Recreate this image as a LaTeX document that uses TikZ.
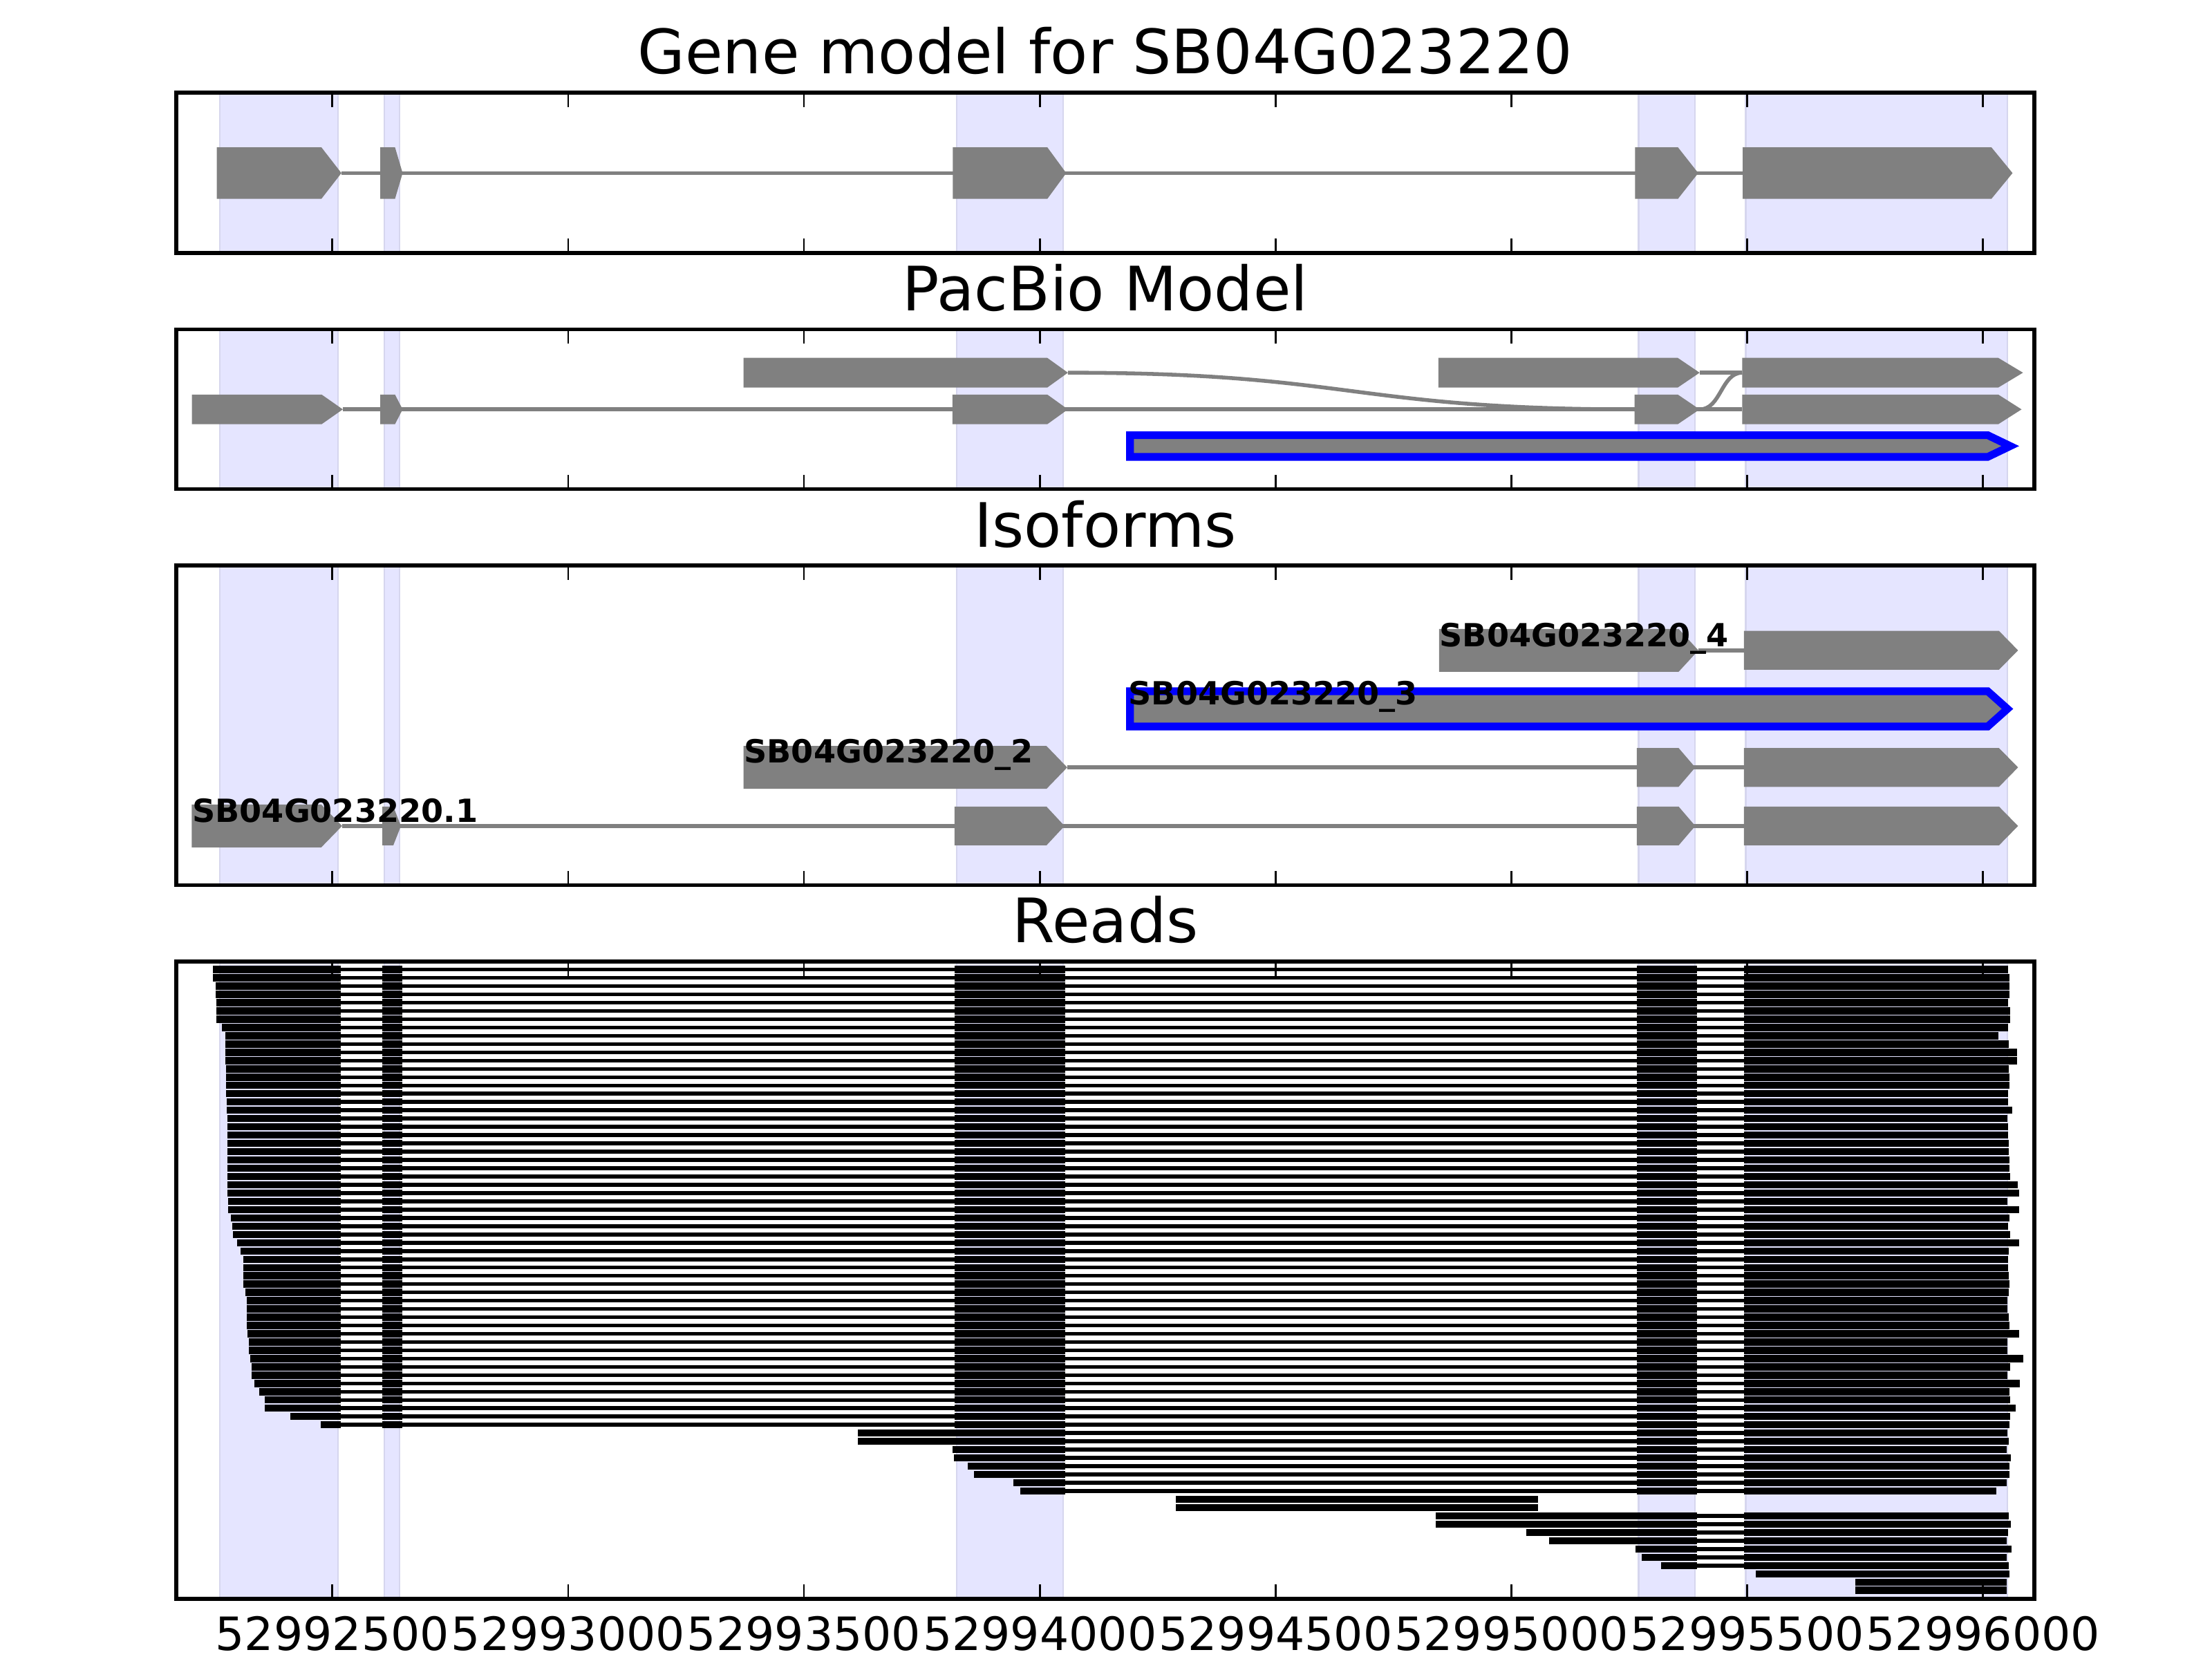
\documentclass[tikz,border=0pt]{standalone}
\usepackage{fontspec}
\setmainfont{DejaVu Sans}
\usepackage{xcolor}
\usepackage{tikz}

\definecolor{exongray}{RGB}{128,128,128}
\definecolor{bandfill}{RGB}{229,229,255}
\definecolor{bandedge}{RGB}{214,214,238}
\definecolor{isoblue}{RGB}{0,0,255}

\tikzset{
  band/.style={fill=bandfill, draw=bandedge, line width=0.4pt},
  intron/.style={draw=exongray, line width=1pt},
  axesframe/.style={draw=black, line width=1pt},
  tickmark/.style={draw=black, line width=0.5pt},
  readline/.style={draw=black, line width=1pt},
  titletext/.style={font=\fontsize{16}{19}\selectfont, anchor=base, inner sep=0pt},
  ticktext/.style={font=\fontsize{12}{14}\selectfont, anchor=base, inner sep=0pt},
  isolabel/.style={font=\fontsize{8.33}{10}\selectfont\bfseries, anchor=base west, inner sep=0pt},
}

% exon arrow: start, end of flat part, tip, centre y, half height
\newcommand{\exonbox}[5]{\fill[exongray] (#1,{#4-#5}) -- (#2,{#4-#5}) -- (#3,#4) -- (#2,{#4+#5}) -- (#1,{#4+#5}) -- cycle;}
\newcommand{\bluebox}[5]{\filldraw[fill=exongray, draw=isoblue, line width=2pt] (#1,{#4-#5}) -- (#2,{#4-#5}) -- (#3,#4) -- (#2,{#4+#5}) -- (#1,{#4+#5}) -- cycle;}
% read block: start, end, centre y
\newcommand{\readbar}[3]{\fill (#1,{#3-2.55}) rectangle (#2,{#3+2.55});}

\begin{document}
\begin{tikzpicture}[x=0.0129592cm, y=-0.0129592cm]
\useasboundingbox (0,0) rectangle (1568,1176);
\fill[white] (0,0) rectangle (1568,1176);

% shaded exon columns
\foreach \ya/\yb in {65.7/179.3, 233.5/346.7, 400.9/627.5, 681.6/1133.4}
  \foreach \a/\b in {155.8/239.5, 272.4/283.3, 678/753.5, 1161.5/1201.5, 1237.5/1423}
    \filldraw[band] (\a,\ya) rectangle (\b,\yb);

% gene model
\draw[intron] (242,122.7) -- (1235.3,122.7);
\exonbox{153.7}{227.8}{242}{122.7}{18.3}
\exonbox{269.6}{280}{285.4}{122.7}{18.3}
\exonbox{675.4}{742.4}{755.8}{122.7}{18.3}
\exonbox{1159}{1189.4}{1203.8}{122.7}{18.3}
\exonbox{1235.3}{1411.6}{1426.6}{122.7}{18.3}

% pacbio model
\draw[intron] (243,290.2) -- (1235,290.2);
\draw[intron] (757,264.2) .. controls (958,264.2) and (958,290.2) .. (1159,290.2);
\draw[intron] (1204.8,264.2) -- (1235,264.2);
\draw[intron] (1204.8,290.2) .. controls (1220,290.2) and (1220,264.2) .. (1235,264.2);
\exonbox{527}{742.4}{757}{264.2}{10.5}
\exonbox{1019.6}{1189.3}{1204.8}{264.2}{10.5}
\exonbox{1235}{1416.5}{1434}{264.2}{10.5}
\exonbox{136}{228}{243}{290.2}{10.5}
\exonbox{269.6}{280}{285.4}{290.2}{10.5}
\exonbox{675.2}{742.4}{757}{290.2}{10.5}
\exonbox{1158.6}{1189.3}{1204.8}{290.2}{10.5}
\exonbox{1235}{1416.5}{1433}{290.2}{10.5}
\bluebox{801}{1409}{1425}{316.2}{7.7}

% isoforms
\draw[intron] (242.5,585.5) -- (1236.2,585.5);
\exonbox{135.9}{227.7}{242.5}{585.5}{15.2}
\exonbox{271}{278.8}{284.2}{585.5}{13.75}
\exonbox{676.6}{741.8}{754.6}{585.5}{13.75}
\exonbox{1160.2}{1189.9}{1201.7}{585.5}{13.75}
\exonbox{1236.2}{1417}{1430.5}{585.5}{13.75}
\draw[intron] (756.5,544) -- (1236.2,544);
\exonbox{527}{741.8}{756.5}{544}{15.2}
\exonbox{1160.2}{1189.9}{1201.7}{544}{13.75}
\exonbox{1236.2}{1417}{1430.5}{544}{13.75}
\bluebox{801}{1409}{1423}{502.5}{12.5}
\draw[intron] (1203.9,461) -- (1236.2,461);
\exonbox{1020.1}{1189.9}{1203.9}{461}{15.2}
\exonbox{1236.2}{1417}{1430.5}{461}{13.75}
\node[isolabel] (iso1) at (135.9,582.9) {SB04G023220.1};
\node[isolabel] (iso2) at (527,540.8) {SB04G023220\_2};
\node[isolabel] (iso3) at (799.5,499.7) {SB04G023220\_3};
\node[isolabel] (iso4) at (1020,458.2) {SB04G023220\_4};

% reads through all five exons
\foreach \i/\s/\e in {1/150.7/1423.3, 2/150.7/1424.6, 3/152.7/1424.6, 4/152.9/1424.6,
    5/153.2/1423.3, 6/153.2/1425.1, 7/153.2/1425.1, 8/157.2/1423.3, 9/159.9/1416.8,
    10/159.9/1424.1, 11/159.9/1430.0, 12/159.9/1430.0, 13/160.2/1424.1, 14/160.2/1424.6,
    15/160.2/1424.6, 16/160.4/1423.3, 17/160.9/1423.3, 18/160.9/1426.6, 19/161.4/1423.1,
    20/161.4/1423.3, 21/161.4/1423.3, 22/161.4/1423.8, 23/161.4/1424.1, 24/161.4/1424.6,
    25/161.4/1424.6, 26/161.4/1425.1, 27/161.4/1430.5, 28/161.4/1431.5, 29/161.9/1423.1,
    30/161.9/1431.5, 31/163.7/1424.6, 32/164.7/1423.3, 33/164.9/1425.1, 34/168.2/1431.5,
    35/170.7/1423.8, 36/172.7/1423.3, 37/172.7/1423.3, 38/172.7/1423.8, 39/172.7/1424.6,
    40/173.9/1423.8, 41/174.7/1423.1, 42/174.7/1423.1, 43/174.7/1424.1, 44/174.9/1424.6,
    45/175.2/1431.5, 46/176.2/1423.1, 47/176.2/1423.1, 48/177.4/1434.0, 49/178.2/1425.1,
    50/178.4/1423.1, 51/180.2/1432.0, 52/183.9/1424.6, 53/187.7/1425.1, 54/187.7/1428.6,
    55/205.9/1425.1, 56/227.2/1424.6} {
  \pgfmathsetmacro{\yc}{687.3+5.867*(\i-1)}
  \draw[readline] (241.4,\yc) -- (1236.3,\yc);
  \readbar{\s}{241.4}{\yc}
  \readbar{271.2}{285.2}{\yc}
  \readbar{676.7}{755}{\yc}
  \readbar{1160.4}{1202.8}{\yc}
  \readbar{1236.3}{\e}{\yc}
}
% reads starting in the third exon
\foreach \i/\s/\e in {57/608/1423.1, 58/608/1424.1, 59/675.2/1422.5, 60/676.2/1425.2,
    61/685.8/1424.3, 62/690.6/1424.3, 63/718.2/1422.5, 64/723/1415.1} {
  \pgfmathsetmacro{\yc}{687.3+5.867*(\i-1)}
  \draw[readline] (755,\yc) -- (1236.3,\yc);
  \readbar{\s}{755}{\yc}
  \readbar{1160.4}{1202.8}{\yc}
  \readbar{1236.3}{\e}{\yc}
}
% unspliced reads
\foreach \i in {65,66} {
  \pgfmathsetmacro{\yc}{687.3+5.867*(\i-1)}
  \readbar{833.4}{1090.1}{\yc}
}
% reads starting near the fourth exon
\foreach \i/\s/\e in {67/1017.8/1423.9, 68/1017.8/1425.2, 69/1082.1/1423.3, 70/1098/1422.5,
    71/1159.1/1426, 72/1163.9/1422.5, 73/1177.6/1423.9} {
  \pgfmathsetmacro{\yc}{687.3+5.867*(\i-1)}
  \draw[readline] (1202.8,\yc) -- (1236.3,\yc);
  \readbar{\s}{1202.8}{\yc}
  \readbar{1236.3}{\e}{\yc}
}
\foreach \i/\s/\e in {74/1244.6/1424.3, 75/1315.2/1422.5, 76/1315.2/1422.5} {
  \pgfmathsetmacro{\yc}{687.3+5.867*(\i-1)}
  \readbar{\s}{\e}{\yc}
}

% axes, ticks and titles
\foreach \ya/\yb in {65.7/179.3, 233.5/346.7, 400.9/627.5, 681.6/1133.4} {
  \foreach \t in {235.6,402.8,569.9,737.1,904.2,1071.4,1238.6,1405.7} {
    \draw[tickmark] (\t,\ya) -- ++(0,10.1);
    \draw[tickmark] (\t,\yb) -- ++(0,-10.1);
  }
  \draw[axesframe] (125,\ya) rectangle (1442,\yb);
}
\node[titletext] (title1) at (783.5,52.4) {Gene model for SB04G023220};
\node[titletext] (title2) at (783.5,220.2) {PacBio Model};
\node[titletext] (title3) at (783.5,387.6) {Isoforms};
\node[titletext] (title4) at (783.5,668.3) {Reads};
\foreach \t/\lab [count=\k] in {235.6/52992500, 402.8/52993000, 569.9/52993500, 737.1/52994000,
    904.2/52994500, 1071.4/52995000, 1238.6/52995500, 1405.7/52996000}
  \node[ticktext] (xtick\k) at (\t,1170) {\lab};
\end{tikzpicture}
\end{document}
